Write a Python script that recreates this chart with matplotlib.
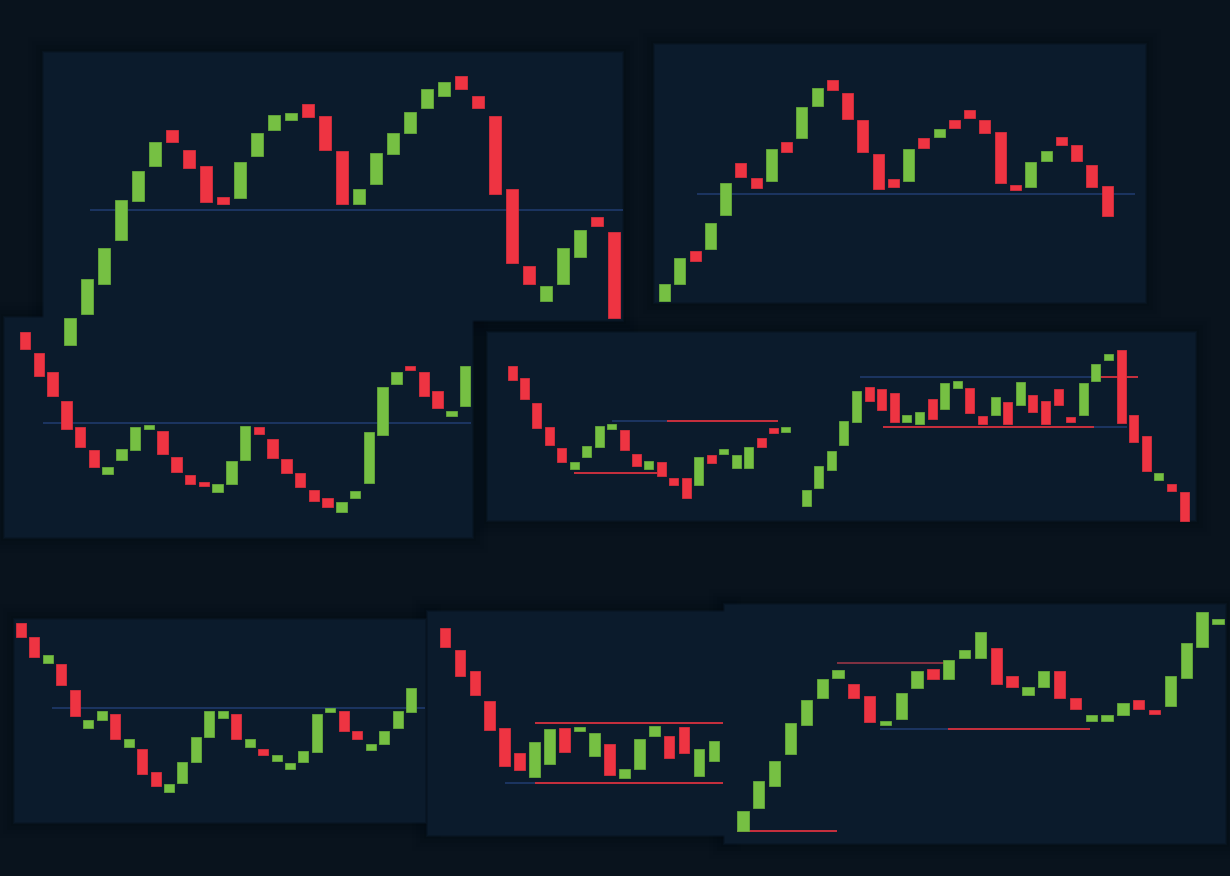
import matplotlib
matplotlib.use("Agg")
import matplotlib.pyplot as plt
from matplotlib.patches import Rectangle

# ---------------- DATA (price units; open / close of each bar) ----------------
a_open  = [531, 562, 592, 636, 675, 710, 746, 726, 710, 679, 678, 720, 746, 756, 772, 760, 725,
           672, 692, 722, 743, 768, 780, 800, 780, 760, 687, 610, 575, 592, 619, 659, 644]
a_close = [558, 597, 628, 676, 705, 734, 734, 708, 674, 672, 714, 743, 761, 763, 759, 726, 672,
           687, 723, 743, 764, 787, 794, 787, 768, 682, 613, 592, 590, 628, 646, 650, 558]

b_open  = [575, 592, 625, 627, 661, 713, 698, 695, 734, 738, 770, 796, 783, 756, 722, 697, 695,
           738, 739, 756, 766, 756, 744, 691, 689, 715, 739, 731, 711, 690]
b_close = [592, 618, 615, 653, 693, 699, 688, 727, 724, 769, 788, 786, 757, 724, 687, 689, 727,
           728, 747, 748, 758, 743, 693, 686, 714, 725, 731, 715, 689, 660]

c_open  = [544, 523, 504, 475, 449, 426, 402, 416, 426, 447, 445, 419, 401, 394, 384, 392, 416,
           449, 437, 417, 403, 386, 378, 364, 378, 393, 441, 492, 510, 504, 485, 460, 470]
c_close = [527, 500, 480, 447, 429, 409, 409, 427, 449, 451, 422, 404, 392, 390, 392, 415, 450,
           442, 418, 403, 389, 375, 369, 374, 385, 444, 489, 504, 506, 480, 468, 465, 510]

d1_open  = [510, 498, 473, 449, 428, 407, 419, 429, 447, 446, 422, 407, 414, 398, 398, 391, 421,
            422, 408, 408, 438, 448, 444]
d1_close = [496, 477, 448, 431, 414, 414, 430, 450, 452, 426, 410, 415, 400, 391, 378, 419, 413,
            427, 421, 429, 429, 443, 449]

d2_open  = [370, 388, 406, 431, 454, 489, 487, 483, 454, 452, 477, 467, 488, 488, 460, 461, 474,
            471, 481, 475, 487, 459, 461, 495, 516, 526, 461, 440, 396, 392, 384]
d2_close = [386, 410, 425, 455, 485, 475, 466, 454, 461, 464, 457, 493, 495, 463, 452, 479, 452,
            494, 464, 452, 471, 454, 493, 512, 522, 453, 434, 405, 403, 385, 355]

e_open  = [253, 239, 213, 212, 186, 148, 156, 162, 129, 127, 104, 84, 93, 114, 139, 158, 162,
           129, 127, 115, 107, 114, 124, 164, 165, 145, 126, 132, 148, 164]
e_close = [239, 219, 221, 191, 160, 156, 165, 137, 137, 102, 90, 92, 114, 139, 165, 165, 137,
           137, 121, 121, 113, 125, 162, 168, 145, 137, 132, 145, 165, 188]

f_open  = [248, 226, 205, 175, 148, 123, 99, 112, 148, 145, 120, 132, 98, 107, 140, 140, 149, 100, 115]
f_close = [229, 200, 181, 146, 110, 106, 134, 147, 124, 149, 143, 101, 107, 137, 150, 118, 123, 127, 135]

g_open  = [45, 68, 90, 122, 151, 178, 198, 192, 180, 151, 157, 188, 207, 197, 218, 218, 228,
           200, 181, 189, 205, 178, 155, 155, 161, 176, 166, 170, 198, 229, 252]
g_close = [65, 95, 115, 153, 176, 197, 206, 178, 154, 155, 183, 205, 197, 216, 226, 244, 192,
           189, 189, 205, 178, 167, 161, 161, 173, 167, 162, 200, 233, 264, 257]

# horizontal levels: price level, start bar index, end bar index
a_lvl_price = [666];            a_lvl_from = [1.18];          a_lvl_to = [32.5]
b_lvl_price = [682];            b_lvl_from = [2.13];          b_lvl_to = [30.8]
c_lvl_price = [453];            c_lvl_from = [1.31];          c_lvl_to = [32.4]
d1_lvl_price = [403, 455, 455]; d1_lvl_from = [4.98, 8.03, 12.45]; d1_lvl_to = [11.65, 12.45, 21.37]
d2_lvl_price = [499, 499, 449, 449]; d2_lvl_from = [4.29, 23.1, 6.11, 22.86]; d2_lvl_to = [23.1, 26.35, 22.86, 25.48]
e_lvl_price = [168];            e_lvl_from = [2.3];           e_lvl_to = [30.04]
f_lvl_price = [153, 93, 93];    f_lvl_from = [6.02, 6.02, 4.02]; f_lvl_to = [18.6, 18.6, 6.02]
g_lvl_price = [45, 213, 147, 147]; g_lvl_from = [-0.38, 5.94, 8.65, 12.95]; g_lvl_to = [5.94, 13.27, 12.95, 21.92]

# ---------------- STYLE ----------------
W, H = 1230, 876
FIG_BG = "#09131d"
PANEL_BG = "#0b1b2c"
GREEN, GREEN_EDGE = "#76c043", "#66aa3a"
RED, RED_EDGE = "#ee3442", "#d82e3c"
BLUE_LINE = "#1d3766"
RED_LINE = "#d8323f"
MUTED_RED = "#8c3444"

fig = plt.figure(figsize=(W / 100, H / 100), dpi=100)
fig.patch.set_facecolor(FIG_BG)


def frac_rect(L, T, R, B):
    return [L / W, 1 - B / H, (R - L) / W, (B - T) / H]


def fig_rect(L, T, R, B, k, **kw):
    return Rectangle(((L - k) / W, 1 - (B + k) / H), (R - L + 2 * k) / W,
                     (B - T + 2 * k) / H, transform=fig.transFigure, lw=0, **kw)


def add_bg(L, T, R, B):
    # soft dark shadow around the panel
    for k, a in [(16, 0.04), (12, 0.06), (8, 0.08), (4, 0.10)]:
        fig.patches.append(fig_rect(L, T, R, B, k, facecolor="#03080d", alpha=a, zorder=-4))
    # feathered edge
    for k, a in [(2, 0.35), (1, 0.6)]:
        fig.patches.append(fig_rect(L, T, R, B, k, facecolor=PANEL_BG, alpha=a, zorder=-3))
    fig.patches.append(fig_rect(L, T, R, B, 0, facecolor=PANEL_BG, zorder=-2))


def make_axes(rect, x0, dx, z):
    L, T, R, B = rect
    ax = fig.add_axes(frac_rect(L, T, R, B))
    ax.set_xlim((L - x0) / dx, (R - x0) / dx)
    ax.set_ylim(H - B, H - T)
    ax.axis("off")
    ax.patch.set_alpha(0)
    ax.set_zorder(z)
    return ax


def candles(ax, opens, closes, width):
    xs = list(range(len(opens)))
    bottoms = [min(o, c) for o, c in zip(opens, closes)]
    heights = [abs(c - o) for o, c in zip(opens, closes)]
    cols = [GREEN if c > o else RED for o, c in zip(opens, closes)]
    edges = [GREEN_EDGE if c > o else RED_EDGE for o, c in zip(opens, closes)]
    bars = ax.bar(xs, heights, bottom=bottoms, width=width, color=cols,
                  edgecolor=edges, linewidth=0.6, zorder=3)
    for p in bars.patches:
        p.set_clip_on(False)


def levels(ax, prices, starts, ends, colors, lw=1.3):
    for p, s, e, c in zip(prices, starts, ends, colors):
        ax.hlines(p, s, e, colors=c, linewidth=lw, zorder=2, clip_on=False)


panels = {
    "A": (44, 53, 622, 320),
    "B": (655, 45, 1145, 302),
    "C": (5, 318, 472, 537),
    "D": (488, 333, 1195, 520),
    "E": (15, 620, 425, 822),
    "F": (428, 612, 725, 835),
    "G": (725, 605, 1225, 843),
}
for r in panels.values():
    add_bg(*r)

axC = make_axes(panels["C"], 25, 13.75, 1)
levels(axC, c_lvl_price, c_lvl_from, c_lvl_to, [BLUE_LINE])
candles(axC, c_open, c_close, 10.5 / 13.75)

axA = make_axes(panels["A"], 70, 17.0, 2)
levels(axA, a_lvl_price, a_lvl_from, a_lvl_to, [BLUE_LINE])
candles(axA, a_open, a_close, 12.7 / 17.0)

axB = make_axes(panels["B"], 664.5, 15.26, 1)
levels(axB, b_lvl_price, b_lvl_from, b_lvl_to, [BLUE_LINE])
candles(axB, b_open, b_close, 11 / 15.26)

axD1 = make_axes(panels["D"], 512, 12.45, 1)
levels(axD1, d1_lvl_price, d1_lvl_from, d1_lvl_to, [RED_LINE, BLUE_LINE, RED_LINE])
candles(axD1, d1_open, d1_close, 9 / 12.45)

axD2 = make_axes(panels["D"], 806, 12.6, 1)
levels(axD2, d2_lvl_price, d2_lvl_from, d2_lvl_to, [BLUE_LINE, RED_LINE, RED_LINE, BLUE_LINE])
candles(axD2, d2_open, d2_close, 9 / 12.6)

axE = make_axes(panels["E"], 21, 13.45, 1)
levels(axE, e_lvl_price, e_lvl_from, e_lvl_to, [BLUE_LINE])
candles(axE, e_open, e_close, 10 / 13.45)

axF = make_axes(panels["F"], 445, 14.94, 1)
levels(axF, f_lvl_price, f_lvl_from, f_lvl_to, [RED_LINE, RED_LINE, BLUE_LINE])
candles(axF, f_open, f_close, 10.7 / 14.94)

axG = make_axes(panels["G"], 743, 15.83, 1)
levels(axG, g_lvl_price, g_lvl_from, g_lvl_to, [RED_LINE, MUTED_RED, BLUE_LINE, RED_LINE])
candles(axG, g_open, g_close, 11.3 / 15.83)

fig.savefig("out.png", dpi=100, facecolor=FIG_BG)
